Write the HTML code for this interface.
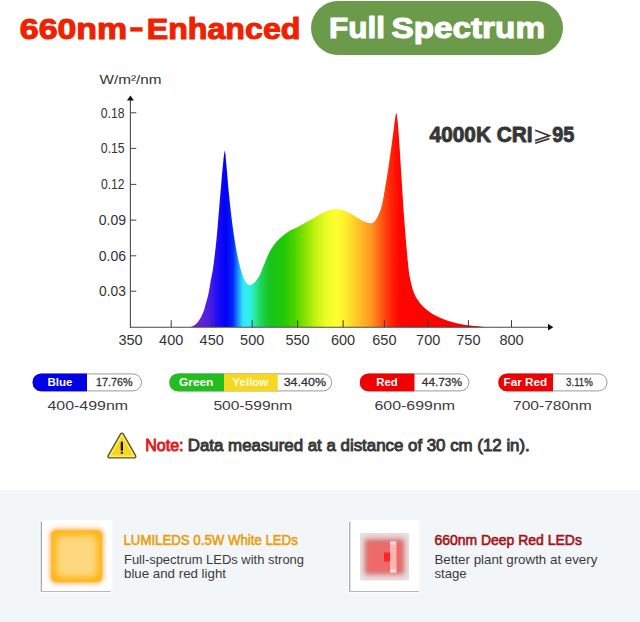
<!DOCTYPE html>
<html><head><meta charset="utf-8"><title>Full Spectrum</title>
<style>
html,body{margin:0;padding:0;background:#fff;}
body{width:640px;height:622px;overflow:hidden;font-family:"Liberation Sans",sans-serif;}
svg{display:block;font-family:"Liberation Sans",sans-serif;}
</style></head><body>
<svg width="640" height="622" viewBox="0 0 640 622">
<defs>
<linearGradient id="spec" gradientUnits="userSpaceOnUse" x1="191" y1="0" x2="488" y2="0">
<stop offset="0.0000" stop-color="#6a22c8"/>
<stop offset="0.0370" stop-color="#6222d4"/>
<stop offset="0.0640" stop-color="#4a1ce4"/>
<stop offset="0.0909" stop-color="#1a0cf4"/>
<stop offset="0.1178" stop-color="#0000f8"/>
<stop offset="0.1414" stop-color="#0428f8"/>
<stop offset="0.1582" stop-color="#1890ff"/>
<stop offset="0.1751" stop-color="#34e6ff"/>
<stop offset="0.1987" stop-color="#30f0e8"/>
<stop offset="0.2155" stop-color="#28e8a0"/>
<stop offset="0.2357" stop-color="#20d458"/>
<stop offset="0.2660" stop-color="#16c41c"/>
<stop offset="0.3098" stop-color="#20c806"/>
<stop offset="0.3468" stop-color="#48d200"/>
<stop offset="0.3838" stop-color="#88e200"/>
<stop offset="0.4175" stop-color="#c0f212"/>
<stop offset="0.4545" stop-color="#ecfc24"/>
<stop offset="0.4916" stop-color="#ffff30"/>
<stop offset="0.5219" stop-color="#ffec2c"/>
<stop offset="0.5623" stop-color="#ffc428"/>
<stop offset="0.6061" stop-color="#ff9820"/>
<stop offset="0.6397" stop-color="#ff5c14"/>
<stop offset="0.6700" stop-color="#ff2808"/>
<stop offset="0.7037" stop-color="#ff0400"/>
<stop offset="1.0000" stop-color="#f80000"/>
</linearGradient>
<radialGradient id="ledg" cx="0.5" cy="0.5" r="0.6">
<stop offset="0" stop-color="#ffdc8c"/><stop offset="0.55" stop-color="#ffd066"/><stop offset="1" stop-color="#ffb61c"/>
</radialGradient>
<clipPath id="led2clip"><rect x="360" y="533" width="49" height="47.5"/></clipPath>
<filter id="blur1" x="-20%" y="-20%" width="140%" height="140%"><feGaussianBlur stdDeviation="1.6"/></filter>
<filter id="blur2" x="-30%" y="-30%" width="160%" height="160%"><feGaussianBlur stdDeviation="2.2"/></filter>
<filter id="blur4" x="-10%" y="-10%" width="120%" height="120%"><feGaussianBlur stdDeviation="0.75"/></filter>
<filter id="blur5" x="-40%" y="-40%" width="180%" height="180%"><feGaussianBlur stdDeviation="3.4"/></filter>
<filter id="blur3" x="-30%" y="-30%" width="160%" height="160%"><feGaussianBlur stdDeviation="0.7"/></filter>
</defs>
<rect width="640" height="622" fill="#fff"/>

<!-- header -->
<g font-size="30" font-weight="bold" fill="#ee2200" stroke="#ee2200" stroke-width="1.1" stroke-linejoin="round">
<text x="19.8" y="38.9" textLength="107.4" lengthAdjust="spacingAndGlyphs">660nm</text>
<text x="146.8" y="38.9" textLength="153.6" lengthAdjust="spacingAndGlyphs">Enhanced</text>
</g>
<rect x="130.2" y="27.2" width="12.4" height="4.4" fill="#ee2200"/>
<rect x="311" y="1" width="252" height="54" rx="27" fill="#6b9a4b"/>
<g font-size="30" font-weight="bold" fill="#fff" stroke="#fff" stroke-width="1.1" stroke-linejoin="round">
<text x="329" y="38.3" textLength="56" lengthAdjust="spacingAndGlyphs">Full</text>
<text x="391.5" y="38.3" textLength="153.5" lengthAdjust="spacingAndGlyphs">Spectrum</text>
</g>

<!-- chart -->
<text x="99.6" y="84.4" font-size="13.5" fill="#333" textLength="62" lengthAdjust="spacingAndGlyphs">W/m²/nm</text>
<path d="M190.7,327.0 C191.2,326.8 192.9,326.4 194.0,325.6 C195.1,324.9 196.4,323.8 197.5,322.5 C198.6,321.2 199.4,319.9 200.5,318.0 C201.6,316.1 202.9,313.3 203.8,310.8 C204.7,308.3 205.2,305.9 206.0,303.0 C206.8,300.1 207.8,297.1 208.5,293.6 C209.2,290.1 209.8,286.2 210.5,282.0 C211.2,277.8 212.0,275.4 213.0,268.5 C214.0,261.6 215.4,250.2 216.4,240.3 C217.4,230.4 218.2,218.9 219.1,209.0 C219.9,199.1 220.8,188.9 221.5,180.8 C222.2,172.7 222.9,165.0 223.4,160.4 C223.9,155.8 224.1,154.6 224.3,153.0 C224.5,151.4 224.6,150.8 224.8,151.0 C225.0,151.2 225.1,151.7 225.4,154.0 C225.7,156.3 225.8,158.4 226.4,165.0 C227.0,171.6 228.0,183.9 228.9,193.3 C229.8,202.7 230.9,213.2 232.0,221.5 C233.1,229.8 234.0,236.6 235.2,243.4 C236.3,250.2 237.6,256.8 238.9,262.3 C240.2,267.8 241.7,272.9 243.0,276.4 C244.3,279.9 245.7,281.9 246.8,283.3 C247.9,284.8 248.5,285.0 249.4,285.1 C250.3,285.2 251.1,284.7 252.0,284.2 C252.9,283.7 254.1,283.0 255.1,282.0 C256.1,281.0 256.9,279.6 257.8,278.3 C258.7,277.0 259.2,276.4 260.3,274.0 C261.4,271.6 263.1,267.0 264.5,263.6 C265.9,260.2 267.3,256.4 268.7,253.6 C270.1,250.8 271.5,248.7 272.9,246.6 C274.3,244.5 275.4,242.9 277.0,241.2 C278.6,239.5 280.3,237.9 282.3,236.2 C284.3,234.5 286.4,232.8 289.0,231.2 C291.6,229.6 295.1,228.3 298.1,226.7 C301.1,225.1 304.0,223.3 306.9,221.7 C309.8,220.1 312.7,218.5 315.6,216.9 C318.5,215.3 321.8,213.3 324.4,212.1 C326.9,210.9 328.9,210.2 330.9,209.7 C332.9,209.2 334.6,209.0 336.4,209.0 C338.2,209.0 339.9,209.3 341.9,209.9 C343.9,210.5 346.2,211.4 348.4,212.5 C350.6,213.6 352.8,214.9 355.0,216.2 C357.2,217.5 359.6,219.1 361.6,220.2 C363.6,221.3 365.5,222.1 367.0,222.6 C368.5,223.1 369.5,223.4 370.8,223.2 C372.1,223.0 373.3,222.9 374.7,221.2 C376.1,219.6 377.8,216.5 379.1,213.5 C380.4,210.5 381.5,206.8 382.4,203.0 C383.3,199.2 383.6,196.5 384.6,190.7 C385.6,184.9 387.1,176.2 388.3,168.0 C389.6,159.8 391.0,149.5 392.1,141.6 C393.2,133.7 394.2,125.3 394.8,120.8 C395.4,116.3 395.6,115.8 395.8,114.5 C396.1,113.2 396.1,113.1 396.3,113.2 C396.5,113.3 396.6,113.4 396.9,115.0 C397.1,116.6 397.3,117.0 397.8,122.7 C398.3,128.4 399.1,139.7 399.7,149.1 C400.3,158.5 400.9,168.6 401.6,179.3 C402.3,190.0 403.0,202.0 403.8,213.3 C404.6,224.6 405.7,237.9 406.5,247.3 C407.3,256.8 408.1,264.6 408.7,270.0 C409.3,275.4 409.7,276.3 410.3,279.4 C410.9,282.5 411.6,285.8 412.5,288.7 C413.4,291.6 414.3,294.1 415.6,296.6 C416.9,299.1 418.5,301.4 420.3,303.6 C422.1,305.8 424.2,307.9 426.6,309.8 C429.0,311.7 431.5,313.4 434.4,315.0 C437.3,316.6 440.6,318.0 443.8,319.2 C446.9,320.4 450.0,321.4 453.1,322.3 C456.2,323.2 459.9,323.9 462.5,324.4 C465.1,324.9 466.7,325.0 468.8,325.3 C470.8,325.6 472.9,325.8 475.0,326.0 C477.1,326.2 479.3,326.5 481.5,326.7 C483.7,326.9 486.9,327.1 488.0,327.2 Z" fill="url(#spec)"/>
<line x1="130.4" y1="100" x2="130.4" y2="327.7" stroke="#4a4a4a" stroke-width="1.1"/>
<path d="M130.4,95.6 L126.9,100.4 L133.9,100.4 Z" fill="#111"/>
<line x1="130" y1="327.2" x2="548.5" y2="327.2" stroke="#4a4a4a" stroke-width="1.1"/>
<path d="M553.3,327.2 L548,323.8 L548,330.6 Z" fill="#111"/>
<line x1="130.5" y1="112.8" x2="136.3" y2="112.8" stroke="#444" stroke-width="1"/>
<text x="100.8" y="117.8" font-size="14" fill="#333" textLength="23.7" lengthAdjust="spacingAndGlyphs">0.18</text>
<line x1="130.5" y1="148.4" x2="136.3" y2="148.4" stroke="#444" stroke-width="1"/>
<text x="100.8" y="153.4" font-size="14" fill="#333" textLength="23.900000000000002" lengthAdjust="spacingAndGlyphs">0.15</text>
<line x1="130.5" y1="184.4" x2="136.3" y2="184.4" stroke="#444" stroke-width="1"/>
<text x="100.9" y="189.4" font-size="14" fill="#333" textLength="23.7" lengthAdjust="spacingAndGlyphs">0.12</text>
<line x1="130.5" y1="220.1" x2="136.3" y2="220.1" stroke="#444" stroke-width="1"/>
<text x="98.7" y="225.1" font-size="14" fill="#333" textLength="27.299999999999994" lengthAdjust="spacingAndGlyphs">0.09</text>
<line x1="130.5" y1="255.8" x2="136.3" y2="255.8" stroke="#444" stroke-width="1"/>
<text x="98.7" y="260.8" font-size="14" fill="#333" textLength="27.299999999999994" lengthAdjust="spacingAndGlyphs">0.06</text>
<line x1="130.5" y1="291.2" x2="136.3" y2="291.2" stroke="#444" stroke-width="1"/>
<text x="99.10000000000001" y="296.2" font-size="14" fill="#333" textLength="26.899999999999988" lengthAdjust="spacingAndGlyphs">0.03</text>

<text x="130.5" y="345" text-anchor="middle" font-size="14.5" fill="#333">350</text>
<line x1="171.2" y1="320.2" x2="171.2" y2="327.2" stroke="#3a3a3a" stroke-width="1"/>
<text x="171.2" y="345" text-anchor="middle" font-size="14.5" fill="#333">400</text>
<line x1="211.7" y1="320.2" x2="211.7" y2="327.2" stroke="#3a3a3a" stroke-width="1"/>
<text x="211.7" y="345" text-anchor="middle" font-size="14.5" fill="#333">450</text>
<line x1="252.2" y1="320.2" x2="252.2" y2="327.2" stroke="#3a3a3a" stroke-width="1"/>
<text x="252.2" y="345" text-anchor="middle" font-size="14.5" fill="#333">500</text>
<line x1="297.6" y1="320.2" x2="297.6" y2="327.2" stroke="#3a3a3a" stroke-width="1"/>
<text x="297.6" y="345" text-anchor="middle" font-size="14.5" fill="#333">550</text>
<line x1="343.1" y1="320.2" x2="343.1" y2="327.2" stroke="#3a3a3a" stroke-width="1"/>
<text x="343.1" y="345" text-anchor="middle" font-size="14.5" fill="#333">600</text>
<line x1="384.4" y1="320.2" x2="384.4" y2="327.2" stroke="#3a3a3a" stroke-width="1"/>
<text x="384.4" y="345" text-anchor="middle" font-size="14.5" fill="#333">650</text>
<line x1="428.2" y1="320.2" x2="428.2" y2="327.2" stroke="#3a3a3a" stroke-width="1"/>
<text x="428.2" y="345" text-anchor="middle" font-size="14.5" fill="#333">700</text>
<line x1="468.4" y1="320.2" x2="468.4" y2="327.2" stroke="#3a3a3a" stroke-width="1"/>
<text x="468.4" y="345" text-anchor="middle" font-size="14.5" fill="#333">750</text>
<line x1="511.5" y1="320.2" x2="511.5" y2="327.2" stroke="#3a3a3a" stroke-width="1"/>
<text x="511.5" y="345" text-anchor="middle" font-size="14.5" fill="#333">800</text>

<text x="429.6" y="142.4" font-size="21.5" font-weight="bold" fill="#363636" stroke="#363636" stroke-width="0.9" stroke-linejoin="round" textLength="103" lengthAdjust="spacingAndGlyphs">4000K CRI</text>
<path d="M535.2,130.3 L549.4,135.7 L535.2,140.6 M549.4,138.6 L535.2,143.2" fill="none" stroke="#363636" stroke-width="1.7" stroke-linejoin="miter"/>
<text x="552.3" y="142.4" font-size="21.5" font-weight="bold" fill="#363636" stroke="#363636" stroke-width="0.9" stroke-linejoin="round" textLength="22" lengthAdjust="spacingAndGlyphs">95</text>

<!-- badges -->
<clipPath id="c32"><rect x="32.5" y="373.4" width="109.5" height="18.0" rx="9.0"/></clipPath>
<rect x="32.5" y="373.4" width="109.5" height="18.0" rx="9.0" fill="#fff"/>
<g clip-path="url(#c32)"><rect x="32.5" y="373.4" width="54.5" height="18.0" fill="#0000e6"/></g>
<rect x="33.0" y="373.9" width="108.5" height="17.0" rx="8.5" fill="none" stroke="#9a9a9a" stroke-width="1"/>
<g clip-path="url(#c32)"><rect x="32.5" y="373.4" width="54.5" height="18.0" fill="#0000e6"/></g>
<text x="47.5" y="386.3" font-size="11.8" font-weight="bold" fill="#fff" textLength="25.0" lengthAdjust="spacingAndGlyphs">Blue</text>
<text x="96" y="386.3" font-size="11.8" fill="#333" stroke="#333" stroke-width="0.3" textLength="36.5" lengthAdjust="spacingAndGlyphs">17.76%</text>
<clipPath id="c169"><rect x="169.3" y="373.4" width="162.89999999999998" height="18.0" rx="9.0"/></clipPath>
<rect x="169.3" y="373.4" width="162.89999999999998" height="18.0" rx="9.0" fill="#fff"/>
<g clip-path="url(#c169)"><rect x="169.3" y="373.4" width="54.79999999999998" height="18.0" fill="#22be1e"/><rect x="224.1" y="373.4" width="53.400000000000006" height="18.0" fill="#f6d822"/></g>
<rect x="169.8" y="373.9" width="161.89999999999998" height="17.0" rx="8.5" fill="none" stroke="#9a9a9a" stroke-width="1"/>
<g clip-path="url(#c169)"><rect x="169.3" y="373.4" width="54.79999999999998" height="18.0" fill="#22be1e"/><rect x="224.1" y="373.4" width="53.400000000000006" height="18.0" fill="#f6d822"/></g>
<text x="179" y="386.3" font-size="11.8" font-weight="bold" fill="#fff" textLength="34.400000000000006" lengthAdjust="spacingAndGlyphs">Green</text>
<text x="232.6" y="386.3" font-size="11.8" font-weight="bold" fill="#fffbe0" textLength="35.70000000000002" lengthAdjust="spacingAndGlyphs">Yellow</text>
<text x="283.7" y="386.3" font-size="11.8" fill="#333" stroke="#333" stroke-width="0.3" textLength="42.30000000000001" lengthAdjust="spacingAndGlyphs">34.40%</text>
<clipPath id="c359"><rect x="359.8" y="373.4" width="109.59999999999997" height="18.0" rx="9.0"/></clipPath>
<rect x="359.8" y="373.4" width="109.59999999999997" height="18.0" rx="9.0" fill="#fff"/>
<g clip-path="url(#c359)"><rect x="359.8" y="373.4" width="54.5" height="18.0" fill="#f00000"/></g>
<rect x="360.3" y="373.9" width="108.59999999999997" height="17.0" rx="8.5" fill="none" stroke="#9a9a9a" stroke-width="1"/>
<g clip-path="url(#c359)"><rect x="359.8" y="373.4" width="54.5" height="18.0" fill="#f00000"/></g>
<text x="376.3" y="386.3" font-size="11.8" font-weight="bold" fill="#fff" textLength="21.399999999999977" lengthAdjust="spacingAndGlyphs">Red</text>
<text x="421.8" y="386.3" font-size="11.8" fill="#333" stroke="#333" stroke-width="0.3" textLength="40.19999999999999" lengthAdjust="spacingAndGlyphs">44.73%</text>
<clipPath id="c498"><rect x="498.3" y="373.4" width="109.19999999999999" height="18.0" rx="9.0"/></clipPath>
<rect x="498.3" y="373.4" width="109.19999999999999" height="18.0" rx="9.0" fill="#fff"/>
<g clip-path="url(#c498)"><rect x="498.3" y="373.4" width="54.69999999999999" height="18.0" fill="#f00000"/></g>
<rect x="498.8" y="373.9" width="108.19999999999999" height="17.0" rx="8.5" fill="none" stroke="#9a9a9a" stroke-width="1"/>
<g clip-path="url(#c498)"><rect x="498.3" y="373.4" width="54.69999999999999" height="18.0" fill="#f00000"/></g>
<text x="503.6" y="386.3" font-size="11.8" font-weight="bold" fill="#fff" textLength="43.69999999999993" lengthAdjust="spacingAndGlyphs">Far Red</text>
<text x="566.1" y="386.3" font-size="11.8" fill="#333" stroke="#333" stroke-width="0.3" textLength="26.699999999999932" lengthAdjust="spacingAndGlyphs">3.11%</text>

<text x="47.5" y="409.7" font-size="13.3" fill="#3c3c3c" textLength="80.5" lengthAdjust="spacingAndGlyphs">400-499nm</text>
<text x="213.4" y="409.7" font-size="13.3" fill="#3c3c3c" textLength="78.79999999999998" lengthAdjust="spacingAndGlyphs">500-599nm</text>
<text x="374.5" y="409.7" font-size="13.3" fill="#3c3c3c" textLength="80.5" lengthAdjust="spacingAndGlyphs">600-699nm</text>
<text x="513" y="409.7" font-size="13.3" fill="#3c3c3c" textLength="78.70000000000005" lengthAdjust="spacingAndGlyphs">700-780nm</text>


<!-- note -->
<path d="M121.9,434.7 L134.3,456.4 L109.5,456.4 Z" fill="#5c5424" stroke="#5c5424" stroke-width="4.4" stroke-linejoin="round"/>
<path d="M121.9,434.7 L134.3,456.4 L109.5,456.4 Z" fill="#f8d61f" stroke="#fdee6a" stroke-width="1.6" stroke-linejoin="round"/>
<rect x="120.7" y="441.4" width="2.3" height="9.6" rx="1" fill="#1a1608"/>
<rect x="120.7" y="451.7" width="2.3" height="2.1" rx="0.9" fill="#1a1608"/>
<text x="145.2" y="451.4" font-size="16" fill="#dc1c22" stroke="#dc1c22" stroke-width="0.9" textLength="38.4" lengthAdjust="spacingAndGlyphs">Note:</text>
<text x="187.8" y="451.4" font-size="16" fill="#383838" stroke="#383838" stroke-width="0.9" textLength="342" lengthAdjust="spacingAndGlyphs">Data measured at a distance of 30 cm (12 in).</text>

<!-- bottom -->
<rect x="0" y="490" width="640" height="132" fill="#f3f6f9"/>
<!-- LED 1 -->
<rect x="39.8" y="520" width="72.4" height="72.6" fill="#fff" filter="url(#blur4)"/>
<rect x="40.7" y="521.6" width="70" height="70.2" fill="#a4a9ae" filter="url(#blur4)"/>
<rect x="42" y="521" width="69" height="70" fill="#fff"/>
<rect x="49.3" y="528.3" width="54.6" height="55.6" rx="7" fill="#ffbc78" filter="url(#blur2)"/>
<rect x="51.3" y="530.3" width="50.8" height="51.8" rx="5" fill="#ffb81e" filter="url(#blur3)"/>
<rect x="57" y="536" width="39.5" height="40.5" rx="5" fill="#ffd880" filter="url(#blur5)"/>
<text x="123.5" y="545.3" font-size="14.5" fill="#e6a010" stroke="#e6a010" stroke-width="0.6" textLength="174.3" lengthAdjust="spacingAndGlyphs">LUMILEDS 0.5W White LEDs</text>
<text x="124" y="564" font-size="13.2" fill="#3a3a3a" textLength="180" lengthAdjust="spacingAndGlyphs">Full-spectrum LEDs with strong</text>
<text x="124" y="577.5" font-size="13.2" fill="#3a3a3a" textLength="102" lengthAdjust="spacingAndGlyphs">blue and red light</text>
<!-- LED 2 -->
<rect x="348.2" y="520" width="72" height="72.6" fill="#fff" filter="url(#blur4)"/>
<rect x="349.1" y="521.6" width="70" height="70.2" fill="#a4a9ae" filter="url(#blur4)"/>
<rect x="350.4" y="521" width="68.6" height="70" fill="#fff"/>
<rect x="360" y="533" width="49" height="47.5" fill="#e4e4e4" filter="url(#blur3)"/>
<g clip-path="url(#led2clip)">
<rect x="364" y="537.5" width="41" height="38.5" fill="#f4a4a4" filter="url(#blur5)"/>
<rect x="365.5" y="540" width="38" height="33.5" fill="#cc7c7c" filter="url(#blur2)"/>
<rect x="367.8" y="542.3" width="33.4" height="29" fill="#ee6a6a" filter="url(#blur1)"/>
</g>
<rect x="390" y="541.5" width="6.5" height="31" fill="#ffb4b4"/>
<rect x="390.5" y="541.5" width="5.5" height="3" fill="#ffdcdc"/>
<rect x="390.5" y="569.5" width="5.5" height="3" fill="#ffdcdc"/>
<rect x="384" y="552.5" width="6" height="9" fill="#ff2424"/>
<text x="434.4" y="545.3" font-size="14.5" fill="#a41418" stroke="#a41418" stroke-width="0.6" textLength="147.5" lengthAdjust="spacingAndGlyphs">660nm Deep Red LEDs</text>
<text x="434.4" y="564" font-size="13.2" fill="#3a3a3a" textLength="163" lengthAdjust="spacingAndGlyphs">Better plant growth at every</text>
<text x="434.4" y="577.5" font-size="13.2" fill="#3a3a3a" textLength="32.2" lengthAdjust="spacingAndGlyphs">stage</text>
</svg>
</body></html>
